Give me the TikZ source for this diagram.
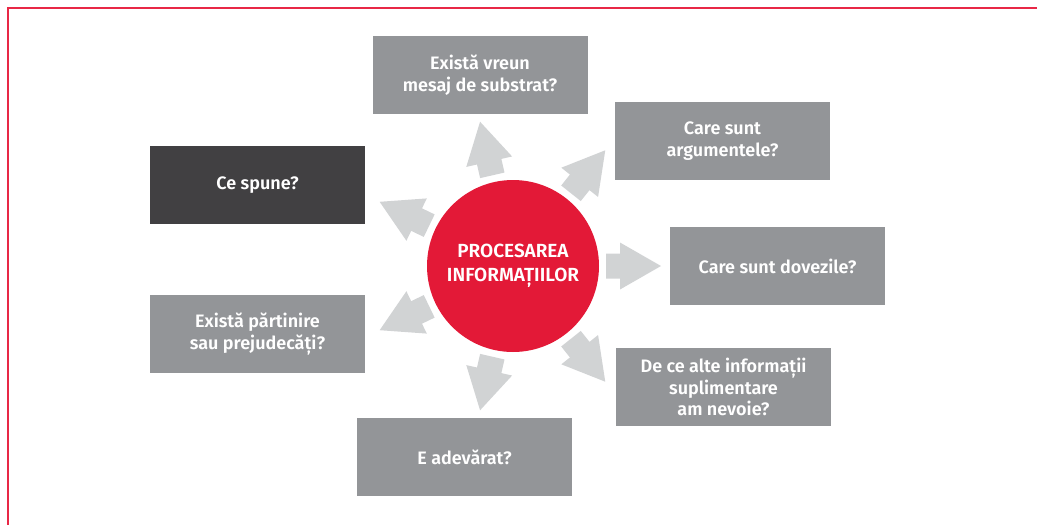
\documentclass[tikz,border=0pt]{standalone}
\usepackage{fontspec}
\setmainfont{Fira Sans}[BoldFont={Fira Sans SemiBold}]
\definecolor{procred}{RGB}{227,25,55}
\definecolor{framered}{RGB}{232,40,70}
\definecolor{boxgray}{RGB}{147,149,152}
\definecolor{boxdark}{RGB}{65,64,66}
\definecolor{arrowgray}{RGB}{209,211,212}
\tikzset{
  qbox/.style={fill=boxgray, text=white, minimum width=215pt, minimum height=78pt,
    inner sep=0pt, align=center, font=\fontsize{18}{21.5}\selectfont\bfseries},
  pointer/.style={fill=arrowgray}
}
\begin{document}
\begin{tikzpicture}[x=1pt,y=-1pt]
    \useasboundingbox (0,0) rectangle (1037,525);
    \fill[framered] (7,7) rectangle (1037,9);
    \fill[framered] (7,7) rectangle (9,525);

    % centre
    \node[circle, fill=procred, minimum size=172pt, inner sep=0pt, text=white, align=center,
      font=\fontsize{19}{24}\selectfont\bfseries] (proc) at (513,266) {PROCESAREA\\INFORMAȚIILOR};

    % block arrows, every 360/7 degrees
    \fill[pointer, rotate around={0:(proc.center)}] (606,253.5) -- (620,253.5) -- (620,242.5) -- (661,266) -- (620,289.5) -- (620,278.5) -- (606,278.5) -- cycle;
    \fill[pointer, rotate around={51.43:(proc.center)}] (606,253.5) -- (620,253.5) -- (620,242.5) -- (661,266) -- (620,289.5) -- (620,278.5) -- (606,278.5) -- cycle;
    \fill[pointer, rotate around={102.86:(proc.center)}] (606,253.5) -- (620,253.5) -- (620,242.5) -- (661,266) -- (620,289.5) -- (620,278.5) -- (606,278.5) -- cycle;
    \fill[pointer, rotate around={154.29:(proc.center)}] (606,253.5) -- (620,253.5) -- (620,242.5) -- (661,266) -- (620,289.5) -- (620,278.5) -- (606,278.5) -- cycle;
    \fill[pointer, rotate around={205.71:(proc.center)}] (606,253.5) -- (620,253.5) -- (620,242.5) -- (661,266) -- (620,289.5) -- (620,278.5) -- (606,278.5) -- cycle;
    \fill[pointer, rotate around={257.14:(proc.center)}] (606,253.5) -- (620,253.5) -- (620,242.5) -- (661,266) -- (620,289.5) -- (620,278.5) -- (606,278.5) -- cycle;
    \fill[pointer, rotate around={308.57:(proc.center)}] (606,253.5) -- (620,253.5) -- (620,242.5) -- (661,266) -- (620,289.5) -- (620,278.5) -- (606,278.5) -- cycle;

    % questions
    \node[qbox] (substrat) at (480,75) {Există vreun\\mesaj de substrat?};
    \node[qbox] (argumente) at (722.5,141) {Care sunt\\argumentele?};
    \node[qbox] (dovezi) at (777.5,266) {Care sunt dovezile?};
    \node[qbox] (informatii) at (723.5,387) {De ce alte informații\\suplimentare\\am nevoie?};
    \node[qbox] (adevarat) at (464.5,457) {E adevărat?};
    \node[qbox] (partinire) at (257.5,334) {Există părtinire\\sau prejudecăți?};
    \node[qbox, fill=boxdark] (spune) at (257.5,185) {Ce spune?};
  \end{tikzpicture}
\end{document}
